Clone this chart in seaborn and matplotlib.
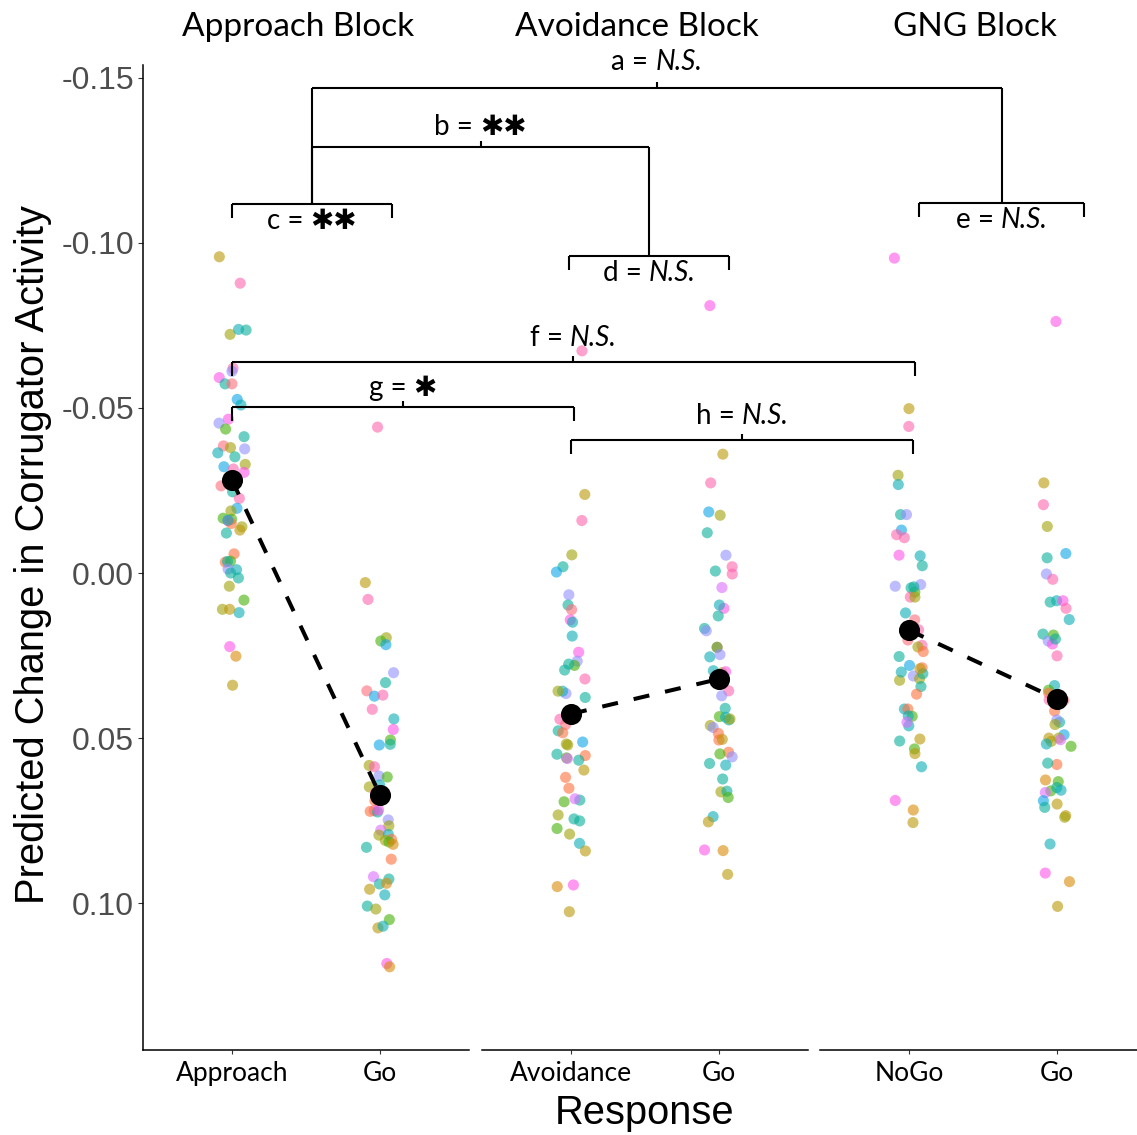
import matplotlib
matplotlib.use("Agg")
import matplotlib.pyplot as plt
from matplotlib.lines import Line2D
import numpy as np
import pandas as pd
import seaborn as sns

# ---------------------------------------------------------------- data
blocks = ["Approach Block", "Avoidance Block", "GNG Block"]
responses = [["Approach", "Go"], ["Avoidance", "Go"], ["NoGo", "Go"]]

# per-participant predicted change, one list per cell, with colour tags
approach_vals = [-0.0958, -0.0878, -0.0723, -0.0738, -0.0736, -0.0620, -0.0611, -0.0592,
                 -0.0573, -0.0573, -0.0526, -0.0509, -0.0466, -0.0454, -0.0436, -0.0413,
                 -0.0385, -0.0380, -0.0376, -0.0364, -0.0352, -0.0329, -0.0322, -0.0315,
                 -0.0305, -0.0264, -0.0246, -0.0226, -0.0196, -0.0188, -0.0166, -0.0163,
                 -0.0158, -0.0150, -0.0160, -0.0140, -0.0130, -0.0121, -0.0058, -0.0033,
                 -0.0036, -0.0035, -0.0010, -0.0012, 0.0000, 0.0015, 0.0040, 0.0082,
                 0.0110, 0.0120, 0.0110, 0.0223, 0.0252, 0.0340]
approach_tags = ["gold", "pink", "olive", "cyan", "teal", "pink", "lavender", "magenta",
                 "teal", "redpink", "blue", "cyan", "magenta", "lavender", "green", "teal",
                 "redpink", "olive", "lavender", "cyan", "teal", "olive", "blue", "pink",
                 "magenta", "redpink", "teal", "pink", "blue", "olive", "green", "green",
                 "magenta", "salmon", "cyan", "olive", "gold", "teal", "salmon", "salmon",
                 "green", "teal", "cyan", "lavender", "teal", "teal", "olive", "green",
                 "olive", "cyan", "gold", "magenta", "orange", "gold"]

go_app_vals = [-0.0442, 0.0029, 0.0080, 0.0196, 0.0206, 0.0217, 0.0302, 0.0332, 0.0357,
               0.0373, 0.0370, 0.0413, 0.0442, 0.0474, 0.0506, 0.0521, 0.0519, 0.0583,
               0.0587, 0.0615, 0.0618, 0.0642, 0.0648, 0.0666, 0.0690, 0.0720, 0.0722,
               0.0724, 0.0718, 0.0748, 0.0766, 0.0779, 0.0794, 0.0792, 0.0807, 0.0810,
               0.0815, 0.0822, 0.0831, 0.0867, 0.0920, 0.0942, 0.0927, 0.0940, 0.0958,
               0.0975, 0.1009, 0.1018, 0.1050, 0.1075, 0.1070, 0.1183, 0.1193]
go_app_tags = ["pink", "gold", "pink", "olive", "green", "blue", "lavender", "teal", "redpink",
               "blue", "pink", "pink", "cyan", "magenta", "green", "blue", "teal", "olive",
               "pink", "lavender", "green", "cyan", "olive", "magenta", "salmon", "pink", "salmon",
               "teal", "magenta", "lavender", "olive", "purple", "olive", "cyan", "salmon", "olive",
               "green", "orange", "teal", "salmon", "purple", "teal", "teal", "orange", "gold",
               "cyan", "teal", "olive", "green", "gold", "cyan", "magenta", "orange"]

avoid_vals = [-0.0673, -0.0238, -0.0159, -0.0055, -0.0019, -0.0003, 0.0066, 0.0097, 0.0111,
              0.0142, 0.0149, 0.0191, 0.0240, 0.0267, 0.0280, 0.0276, 0.0294, 0.0321, 0.0365,
              0.0358, 0.0358, 0.0377, 0.0443, 0.0459, 0.0478, 0.0484, 0.0521, 0.0512, 0.0518,
              0.0553, 0.0549, 0.0560, 0.0562, 0.0567, 0.0597, 0.0619, 0.0652, 0.0693, 0.0688,
              0.0684, 0.0733, 0.0745, 0.0751, 0.0774, 0.0791, 0.0819, 0.0842, 0.0945, 0.0950,
              0.1026]
avoid_tags = ["pink", "gold", "pink", "olive", "teal", "blue", "lavender", "teal", "redpink",
              "magenta", "cyan", "cyan", "magenta", "lavender", "green", "teal", "teal", "pink",
              "lavender", "cyan", "olive", "teal", "pink", "redpink", "teal", "salmon", "olive",
              "blue", "olive", "salmon", "teal", "green", "purple", "teal", "gold", "salmon",
              "salmon", "green", "teal", "purple", "olive", "teal", "teal", "green", "olive",
              "cyan", "gold", "magenta", "orange", "gold"]

go_avoid_vals = [-0.0810, -0.0360, -0.0273, -0.0185, -0.0175, -0.0122, -0.0054, -0.0019,
                 0.0003, -0.0006, 0.0044, 0.0107, 0.0097, 0.0130, 0.0168, 0.0175, 0.0225,
                 0.0225, 0.0254, 0.0247, 0.0302, 0.0299, 0.0296, 0.0326, 0.0357, 0.0372,
                 0.0410, 0.0435, 0.0445, 0.0437, 0.0442, 0.0462, 0.0468, 0.0486, 0.0506,
                 0.0504, 0.0543, 0.0548, 0.0557, 0.0582, 0.0577, 0.0624, 0.0663, 0.0661,
                 0.0680, 0.0738, 0.0754, 0.0841, 0.0839, 0.0913]
go_avoid_tags = ["magenta", "gold", "pink", "blue", "olive", "teal", "lavender", "pink",
                 "pink", "teal", "purple", "magenta", "cyan", "teal", "teal", "lavender", "pink",
                 "green", "cyan", "lavender", "olive", "magenta", "cyan", "salmon", "pink",
                 "lavender", "teal", "green", "teal", "cyan", "olive", "olive", "lavender",
                 "salmon", "salmon", "gold", "salmon", "green", "lavender", "cyan", "teal",
                 "teal", "olive", "teal", "green", "cyan", "gold", "orange", "magenta", "gold"]

nogo_vals = [-0.0954, -0.0498, -0.0444, -0.0296, -0.0268, -0.0177, -0.0177, -0.0130, -0.0116,
             -0.0107, -0.0054, -0.0052, -0.0022, 0.0040, 0.0058, 0.0045, 0.0035, 0.0042, 0.0073,
             0.0073, 0.0121, 0.0142, 0.0172, 0.0203, 0.0219, 0.0224, 0.0238, 0.0253, 0.0280,
             0.0287, 0.0312, 0.0320, 0.0305, 0.0325, 0.0300, 0.0290, 0.0344, 0.0367, 0.0412,
             0.0412, 0.0434, 0.0463, 0.0433, 0.0452, 0.0503, 0.0509, 0.0533, 0.0547, 0.0587,
             0.0689, 0.0718, 0.0756]
nogo_tags = ["magenta", "gold", "pink", "olive", "cyan", "teal", "lavender", "blue", "pink",
             "pink", "magenta", "cyan", "teal", "lavender", "green", "teal", "lavender", "teal",
             "pink", "olive", "cyan", "redpink", "pink", "redpink", "pink", "olive", "salmon",
             "teal", "blue", "salmon", "lavender", "olive", "teal", "olive", "cyan", "gold",
             "teal", "salmon", "cyan", "salmon", "green", "cyan", "cyan", "purple", "gold",
             "teal", "green", "gold", "cyan", "magenta", "orange", "gold"]

go_gng_vals = [-0.0762, -0.0273, -0.0207, -0.0141, -0.0059, -0.0046, 0.0003, 0.0019, 0.0084,
               0.0084, 0.0107, 0.0088, 0.0141, 0.0185, 0.0188, 0.0206, 0.0215, 0.0200, 0.0251,
               0.0341, 0.0355, 0.0364, 0.0384, 0.0386, 0.0418, 0.0452, 0.0445, 0.0459, 0.0490,
               0.0500, 0.0510, 0.0525, 0.0500, 0.0518, 0.0505, 0.0580, 0.0576, 0.0627, 0.0632,
               0.0660, 0.0665, 0.0650, 0.0658, 0.0690, 0.0700, 0.0710, 0.0735, 0.0740, 0.0821,
               0.0909, 0.0935, 0.1010]
go_gng_tags = ["magenta", "gold", "pink", "olive", "blue", "teal", "lavender", "pink", "cyan",
               "magenta", "pink", "teal", "cyan", "teal", "green", "lavender", "magenta", "teal",
               "pink", "cyan", "green", "salmon", "pink", "redpink", "salmon", "teal", "lavender",
               "olive", "blue", "olive", "olive", "green", "gold", "cyan", "purple", "salmon",
               "teal", "orange", "green", "green", "purple", "teal", "cyan", "blue", "gold",
               "teal", "gold", "olive", "cyan", "magenta", "orange", "gold"]

cell_vals = [[approach_vals, go_app_vals], [avoid_vals, go_avoid_vals], [nogo_vals, go_gng_vals]]
cell_tags = [[approach_tags, go_app_tags], [avoid_tags, go_avoid_tags], [nogo_tags, go_gng_tags]]

# model-predicted means per cell
cell_means = [[-0.0282, 0.0673], [0.0427, 0.0321], [0.0173, 0.0382]]

y_ticks = [-0.15, -0.10, -0.05, 0.00, 0.05, 0.10]
y_tick_labels = ["-0.15", "-0.10", "-0.05", "0.00", "0.05", "0.10"]

# colour tag -> slot on a 50-step hue wheel (one slot per participant colour)
hue_slot = {"salmon": 1, "orange": 4, "gold": 7, "olive": 10, "green": 15, "teal": 22,
            "cyan": 26, "blue": 31, "lavender": 35, "purple": 39, "magenta": 42,
            "pink": 46, "redpink": 49}

# ---------------------------------------------------------------- style
sns.set_style("ticks")
plt.rcParams["font.family"] = ["Lato", "DejaVu Sans"]
plt.rcParams["text.color"] = "black"

W, H = 1137, 1135
fig = plt.figure(figsize=(W / 100, H / 100), dpi=100)

wheel = sns.husl_palette(50, h=15 / 360, s=1.0, l=0.65)
palette = {k: wheel[v] for k, v in hue_slot.items()}

panel_left = [143, 482, 820]
panel_w, top_px, bot_px = 326, 65, 1050
ylims = (0.1445, -0.1539)

axes = []
for i in range(3):
    ax = fig.add_axes([panel_left[i] / W, 1 - bot_px / H, panel_w / W, (bot_px - top_px) / H])
    rows = []
    for j, resp in enumerate(responses[i]):
        for v, t in zip(cell_vals[i][j], cell_tags[i][j]):
            rows.append({"response": resp, "change": v, "colour": t})
    df = pd.DataFrame(rows)
    np.random.seed(7 + i)
    sns.stripplot(data=df, x="response", y="change", hue="colour", palette=palette,
                  order=responses[i], jitter=0.1, size=8, alpha=0.6, linewidth=0,
                  legend=False, ax=ax, zorder=2)
    sns.pointplot(x=responses[i], y=cell_means[i], order=responses[i], color="black",
                  errorbar=None, markersize=13, linewidth=2.9,
                  linestyle=(0, (4, 4)), ax=ax)
    for ln in ax.lines:
        ln.set_zorder(4)
    ax.set_xlim(-0.6, 1.6)
    ax.set_ylim(*ylims)
    ax.set_xlabel("")
    ax.set_ylabel("")
    ax.tick_params(axis="x", length=3, width=0.8, color="#333333", labelsize=19,
                   labelcolor="black", pad=5)
    for s in ["top", "right"]:
        ax.spines[s].set_visible(False)
    ax.spines["bottom"].set_linewidth(1.1)
    ax.spines["bottom"].set_color("black")
    if i == 0:
        ax.set_yticks(y_ticks)
        ax.set_yticklabels(y_tick_labels, family="Liberation Sans", color="#4D4D4D")
        ax.tick_params(axis="y", length=3.6, width=0.8, color="#333333", labelsize=23, pad=3)
        ax.spines["left"].set_linewidth(1.1)
        ax.spines["left"].set_color("black")
    else:
        ax.spines["left"].set_visible(False)
        ax.set_yticks([])
    ax.text(0.475, 1.0386, blocks[i], transform=ax.transAxes, ha="center", va="center",
            fontsize=24, color="black")
    axes.append(ax)

fig.text(645 / W, 1 - 1113 / H, "Response", ha="center", va="center",
         fontsize=28.7, family="Liberation Sans", color="black")
fig.text(33 / W, 1 - 555 / H, "Predicted Change in Corrugator Activity", rotation=90,
         ha="center", va="center", fontsize=28.7, family="Liberation Sans", color="black")

# ---------------------------------------------------------------- contrast brackets
inv = fig.transFigure.inverted()
renderer = fig.canvas.get_renderer()


def fpt(panel, x, y):
    return inv.transform(axes[panel].transData.transform((x, y)))


def seg(p0, p1):
    fig.add_artist(Line2D([p0[0], p1[0]], [p0[1], p1[1]], transform=fig.transFigure,
                          color="black", lw=1.5, solid_capstyle="butt"))


def label(x_fig, y_val, head, tail, italic):
    """Centred label made of an upright head and an (optionally italic) tail."""
    y_fig = fpt(0, 0, y_val)[1]
    kw = dict(ha="left", va="center", fontsize=20, family=["Lato", "DejaVu Sans"],
              color="black")
    t1 = fig.text(0, y_fig, head, **kw)
    t2 = fig.text(0, y_fig, tail, style="italic" if italic else "normal", **kw)
    w1 = t1.get_window_extent(renderer).width / fig.bbox.width
    w2 = t2.get_window_extent(renderer).width / fig.bbox.width
    x0 = x_fig - (w1 + w2) / 2
    t1.set_x(x0)
    t2.set_x(x0 + w1)


STAR2 = "\u2731\u2731"
STAR1 = "\u2731"
leg = 0.0042
tick = 0.0018

# within-block pairs: legs down, label below the bar
pairs = {
    "c": (0, 0.0, 1.08, -0.1118, "c = ", STAR2, False),
    "d": (1, -0.01, 1.07, -0.0961, "d = ", "N.S.", True),
    "e": (2, 0.07, 1.18, -0.1121, "e = ", "N.S.", True),
}
mids = {}
for key, (p, x0, x1, yv, head, tail, it) in pairs.items():
    a0, a1 = fpt(p, x0, yv), fpt(p, x1, yv)
    seg(a0, a1)
    seg(a0, fpt(p, x0, yv + leg))
    seg(a1, fpt(p, x1, yv + leg))
    mids[key] = ((a0[0] + a1[0]) / 2, a0[1])
    label(mids[key][0], yv + 0.0051, head, tail, it)

# between-block contrasts joining the pair brackets
joins = [("c", "d", -0.129, -0.1352, "b = ", STAR2, False),
         ("c", "e", -0.147, -0.1548, "a = ", "N.S.", True)]
for k0, k1, yv, ylab, head, tail, it in joins:
    yf = fpt(0, 0, yv)[1]
    x0, x1 = mids[k0][0], mids[k1][0]
    seg((x0, yf), (x1, yf))
    seg((x0, yf), mids[k0])
    seg((x1, yf), mids[k1])
    xm = (x0 + x1) / 2
    seg((xm, yf), (xm, fpt(0, 0, yv - tick)[1]))
    label(xm, ylab, head, tail, it)

# cross-block response contrasts
cross = [((0, 0.0), (2, 0.04), -0.0639, -0.0712, "f = ", "N.S.", True),
         ((0, 0.0), (1, 0.02), -0.0503, -0.0561, "g = ", STAR1, False),
         ((1, 0.0), (2, 0.03), -0.0403, -0.0476, "h = ", "N.S.", True)]
for (p0, x0), (p1, x1), yv, ylab, head, tail, it in cross:
    a0, a1 = fpt(p0, x0, yv), fpt(p1, x1, yv)
    seg(a0, a1)
    seg(a0, fpt(p0, x0, yv + leg))
    seg(a1, fpt(p1, x1, yv + leg))
    xm = (a0[0] + a1[0]) / 2
    seg((xm, a0[1]), (xm, fpt(0, 0, yv - tick)[1]))
    label(xm, ylab, head, tail, it)

fig.savefig("out.png", dpi=100)
